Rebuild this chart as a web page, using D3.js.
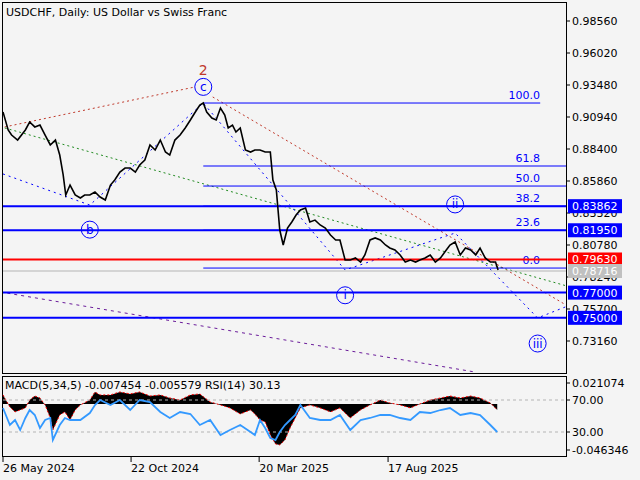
<!DOCTYPE html><html><head><meta charset="utf-8">
<script src="https://cdn.jsdelivr.net/npm/d3@7"></script>
<style>body{margin:0;background:#f4f4f4}text{font-family:"DejaVu Sans",sans-serif}</style></head><body>
<svg id="c" width="640" height="480"></svg>
<script>
const startDate = "2024-05-26";
const priceDays = [0,6,10,17,26,31,37,43,49,55,61,66,70,73,78,84,90,95,101,107,113,119,125,130,136,142,148,154,159,165,171,177,183,189,194,200,206,212,218,223,229,233,237,243,248,253,258,262,267,271,276,282,288,293,299,305,311,314,318,322,326,331,336,341,346,352,357,363,369,375,381,387,392,398,404,410,416,421,427,433,439,445,450,456,462,468,474,480,485,491,497,503,509,514,520,526,532,538,544,550,555,561,567,573,576];
const prices = [0.9134,0.8991,0.8951,0.8911,0.8991,0.9054,0.9015,0.9030,0.8951,0.8872,0.8911,0.8792,0.8634,0.8475,0.8554,0.8475,0.8451,0.8475,0.8475,0.8499,0.8459,0.8435,0.8554,0.8594,0.8657,0.8689,0.8689,0.8657,0.8713,0.8753,0.8872,0.8832,0.8911,0.8816,0.8792,0.8911,0.8951,0.9007,0.9070,0.9126,0.9189,0.9205,0.9134,0.9086,0.9070,0.9165,0.9110,0.9007,0.9030,0.8975,0.9007,0.8832,0.8816,0.8832,0.8832,0.8816,0.8816,0.8594,0.8515,0.8197,0.8078,0.8213,0.8261,0.8316,0.8356,0.8372,0.8261,0.8276,0.8237,0.8213,0.8157,0.8118,0.8118,0.7959,0.7959,0.7975,0.7943,0.7999,0.8118,0.8134,0.8118,0.8078,0.8054,0.8038,0.7999,0.7943,0.7959,0.7943,0.7959,0.7975,0.7999,0.7943,0.7975,0.8022,0.8078,0.8102,0.7999,0.8054,0.8038,0.7999,0.8054,0.7975,0.7943,0.7943,0.7880];
const indDays = [0,8,14,20,26,31,37,43,49,55,58,66,72,78,84,90,101,107,113,125,136,148,159,171,183,194,206,218,229,241,253,264,276,288,293,299,305,311,317,322,328,334,340,346,357,369,381,392,404,416,427,439,450,462,474,485,497,509,520,532,544,555,567,575];
const macd = [0.0091,-0.0030,-0.0080,-0.0060,-0.0040,0.0040,0.0080,0.0060,-0.0010,-0.0141,-0.0262,-0.0111,-0.0080,-0.0161,-0.0060,-0.0010,0.0040,0.0121,0.0091,0.0091,0.0121,0.0101,0.0121,0.0080,0.0091,0.0060,0.0040,0.0091,0.0101,0.0020,-0.0010,-0.0040,-0.0101,-0.0060,-0.0101,-0.0161,-0.0181,-0.0312,-0.0402,-0.0412,-0.0362,-0.0241,-0.0141,-0.0040,-0.0010,-0.0040,-0.0080,-0.0040,-0.0141,-0.0060,-0.0010,0.0040,0.0010,-0.0010,-0.0040,0,0.0040,0.0060,0.0080,0.0060,0.0080,0.0060,0.0010,-0.0060];
const rsi = [60,38.75,45,32.5,47.5,57.5,51.25,35,45,47.5,20,38.75,47.5,45,45,45,53.75,63.75,70,63.75,70,57.5,70,67.5,55,47.5,55,52.5,38.75,45,26.25,32.5,38.75,30,26.25,45,35,22.5,20,30,38.75,45,51.25,63.75,47.5,45,45,51.25,32.5,45,47.5,51.25,51.25,47.5,45,55,53.75,57.5,60,51.25,53.75,51.25,38.75,30];
const priceTicks = [0.98560,0.96020,0.93480,0.90940,0.88400,0.85860,0.83320,0.80780,0.78240,0.75700,0.73160];
const levels = [{v:0.83862,c:"#0000ff",w:2},{v:0.81950,c:"#0000ff",w:2},{v:0.79630,c:"#ff0000",w:2},{v:0.78716,c:"#b4b4b4",w:1},{v:0.77000,c:"#0000ff",w:2},{v:0.75000,c:"#0000ff",w:2}];
const fibs = [{l:"100.0",v:0.9205,end:625},{l:"61.8",v:0.8705,end:655},{l:"50.0",v:0.8546,end:655},{l:"38.2",v:0.83862,end:655},{l:"23.6",v:0.8195,end:655},{l:"0.0",v:0.7895,end:660}];
const fibStart = 233;
const redTrend = [[[2,0.9015],[223,0.9332]],[[244,0.9253],[655,0.7602]]];
const greenTrend = [[2,0.9007],[660,0.7745]];
const bluePath = [[0,0.8642],[101,0.8395],[233,0.9205],[398,0.7880],[526,0.8173],[622,0.7499],[660,0.7602]];
const purpleTrend = [[-3,0.7705],[549,0.7070]];
const waves = [{t:"b",d:101,v:0.8200},{t:"c",d:233,v:0.9333},{t:"i",d:398,v:0.7679},{t:"ii",d:526,v:0.8400},{t:"iii",d:622,v:0.7296}];
const dateTicks = ["2024-05-26","2024-10-22","2025-03-20","2025-08-17"];
const dateLabels = ["26 May 2024","22 Oct 2024","20 Mar 2025","17 Aug 2025"];

const svg = d3.select("#c");
const t0 = new Date(startDate+"T00:00:00Z");
const dt = d => new Date(t0.getTime()+d*864e5);
const x = d3.scaleUtc().domain([dt(0),dt(655)]).range([3,566]);
const y = d3.scaleLinear().domain([0.73160,0.98560]).range([341,21]);
const ym = d3.scaleLinear().domain([-0.046346,0.021074]).range([450,383]);
const yr = d3.scaleLinear().domain([30,70]).range([432,400]);
const R = 566;

svg.append("rect").attr("width",640).attr("height",480).attr("fill","#f4f4f4");
const main = svg.append("g");
const clip = svg.append("clipPath").attr("id","cm").append("rect").attr("x",3).attr("y",3).attr("width",R-3).attr("height",370);
const g = main.append("g").attr("clip-path","url(#cm)");

// trend lines
const ln = d3.line().x(p=>x(dt(p[0]))).y(p=>y(p[1]));
redTrend.forEach(s=>g.append("path").attr("d",ln(s)).attr("stroke","#c0392b").attr("stroke-dasharray","2,3").attr("fill","none"));
g.append("path").attr("d",ln(greenTrend)).attr("stroke","#228b22").attr("stroke-dasharray","2,3").attr("fill","none");
g.append("path").attr("d",ln(purpleTrend)).attr("stroke","#6a1b9a").attr("stroke-dasharray","3,4").attr("fill","none");
g.append("path").attr("d",ln(bluePath)).attr("stroke","#0000ff").attr("stroke-dasharray","2,4").attr("fill","none");
// fibs
fibs.forEach(f=>{
  g.append("line").attr("x1",x(dt(fibStart))).attr("x2",x(dt(f.end))).attr("y1",y(f.v)).attr("y2",y(f.v)).attr("stroke","#0000ff");
  g.append("text").attr("x",540).attr("y",y(f.v)-4).attr("text-anchor","end").attr("font-size",11).attr("fill","#0000ff").text(f.l);
});
// levels
levels.forEach(l=>g.append("line").attr("x1",3).attr("x2",R).attr("y1",y(l.v)).attr("y2",y(l.v)).attr("stroke",l.c).attr("stroke-width",l.w));
// price
g.append("path").attr("d",d3.line().x((d,i)=>x(dt(priceDays[i]))).y(d=>y(d))(prices)).attr("stroke","#000").attr("stroke-width",1.6).attr("fill","none");
// waves
waves.forEach(w=>{
  const cx=x(dt(w.d)), cy=y(w.v);
  g.append("circle").attr("cx",cx).attr("cy",cy).attr("r",8.5).attr("fill","none").attr("stroke","#0000ff");
  g.append("text").attr("x",cx).attr("y",cy+4).attr("text-anchor","middle").attr("font-size",12).attr("fill","#0000ff").text(w.t);
});
g.append("text").attr("x",x(dt(233))).attr("y",75).attr("text-anchor","middle").attr("font-size",14).attr("fill","#c0392b").text("2");
g.append("text").attr("x",6).attr("y",16).attr("font-size",11).attr("fill","#000").text("USDCHF, Daily:  US Dollar vs Swiss Franc");

// frame main
svg.append("rect").attr("x",2.5).attr("y",2.5).attr("width",R-2).attr("height",371).attr("fill","none").attr("stroke","#000");
// right axis
priceTicks.forEach(p=>{
  svg.append("line").attr("x1",R).attr("x2",R+4).attr("y1",y(p)).attr("y2",y(p)).attr("stroke","#000");
  svg.append("text").attr("x",R+6).attr("y",y(p)+4).attr("font-size",11).text(p.toFixed(5));
});
levels.forEach(l=>{
  svg.append("rect").attr("x",R+2).attr("y",y(l.v)-7).attr("width",54).attr("height",14).attr("fill",l.c==="#b4b4b4"?"#c0c0c0":l.c);
  svg.append("text").attr("x",R+6).attr("y",y(l.v)+4).attr("font-size",11).attr("fill","#fff").text(l.v.toFixed(5));
});

// indicator panel
svg.append("rect").attr("x",2.5).attr("y",376.5).attr("width",R-2).attr("height",80).attr("fill","none").attr("stroke","#000");
const gi = svg.append("g");
gi.append("path").attr("d",d3.area().x((d,i)=>x(dt(indDays[i]))).y0(ym(0)).y1(d=>ym(d))(macd)).attr("fill","#000");
gi.append("path").attr("d",d3.line().x((d,i)=>x(dt(indDays[i]))).y(d=>ym(d))(macd)).attr("stroke","#ff0000").attr("stroke-dasharray","2,2").attr("fill","none");
[70,30].forEach(v=>gi.append("line").attr("x1",3).attr("x2",R).attr("y1",yr(v)).attr("y2",yr(v)).attr("stroke","#b4b4b4").attr("stroke-dasharray","3,3"));
gi.append("path").attr("d",d3.line().x((d,i)=>x(dt(indDays[i]))).y(d=>yr(d))(rsi)).attr("stroke","#3399ff").attr("stroke-width",1.8).attr("fill","none");
gi.append("text").attr("x",5).attr("y",389).attr("font-size",11).text("MACD(5,34,5) -0.007454 -0.005579 RSI(14) 30.13");
[[0.021074,"0.021074"],[-0.046346,"-0.046346"]].forEach(([v,l])=>{svg.append("line").attr("x1",R).attr("x2",R+4).attr("y1",ym(v)).attr("y2",ym(v)).attr("stroke","#000");svg.append("text").attr("x",R+6).attr("y",ym(v)+4).attr("font-size",11).text(l);});
[[70,"70.00"],[30,"30.00"]].forEach(([v,l])=>{svg.append("line").attr("x1",R).attr("x2",R+4).attr("y1",yr(v)).attr("y2",yr(v)).attr("stroke","#000");svg.append("text").attr("x",R+6).attr("y",yr(v)+4).attr("font-size",11).text(l);});
dateTicks.forEach((d,i)=>{const xx=x(new Date(d+"T00:00:00Z"));
  svg.append("line").attr("x1",xx).attr("x2",xx).attr("y1",457).attr("y2",462).attr("stroke","#000");
  svg.append("text").attr("x",xx).attr("y",472).attr("font-size",11).text(dateLabels[i]);});
</script></body></html>
